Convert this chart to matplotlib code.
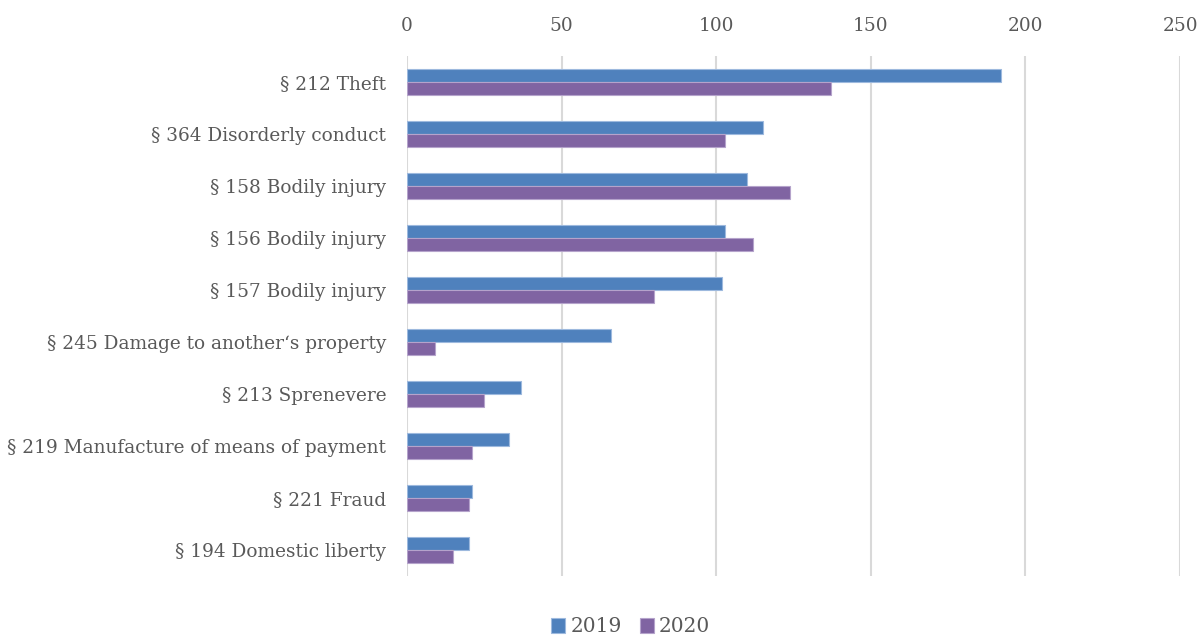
import matplotlib.pyplot as plt
import numpy as np

categorias = ["§ 212 Theft", "§ 364 Disorderly conduct", "§ 158 Bodily injury",
              "§ 156 Bodily injury", "§ 157 Bodily injury",
              "§ 245 Damage to another‘s property", "§ 213 Sprenevere",
              "§ 219 Manufacture of means of payment", "§ 221 Fraud",
              "§ 194 Domestic liberty"]
v2019 = [192, 115, 110, 103, 102, 66, 37, 33, 21, 20]
v2020 = [137, 103, 124, 112, 80, 9, 25, 21, 20, 15]
ticks = [0, 50, 100, 150, 200, 250]

plt.rcParams['font.family'] = ['DejaVu Serif', 'Liberation Serif']
gris = "#595959"

fig = plt.figure(figsize=(11.99, 6.37), dpi=100)
ax = fig.add_axes([407/1199, 1-576/637, (1180-407)/1199, (576-56)/637])

y = np.arange(len(categorias))
h = 0.25
ax.barh(y - h/2, v2019, height=h, color="#4F81BD", edgecolor="#9DB9DE", linewidth=0.8, label="2019", zorder=3)
ax.barh(y + h/2, v2020, height=h, color="#8064A2", edgecolor="#B5A3CB", linewidth=0.8, label="2020", zorder=3)

ax.set_ylim(len(categorias) - 0.5, -0.5)
ax.set_xlim(0, 250)
ax.set_yticks(y)
ax.set_yticklabels(categorias, fontsize=13.3, color=gris)
ax.set_xticks(ticks)
ax.set_xticklabels([str(t) for t in ticks], fontsize=13.3, color=gris)
ax.xaxis.tick_top()
ax.tick_params(axis="x", length=0, pad=15)
ax.tick_params(axis="y", length=0, pad=15)
ax.grid(axis="x", color="#D9D9D9", linewidth=1.5, zorder=0)
for s in ax.spines.values():
    s.set_visible(False)

leg = fig.legend(loc="center", bbox_to_anchor=(0.526, 1-627/637), ncol=2, frameon=False,
                 fontsize=14.5, handlelength=0.7, handleheight=0.7, handletextpad=0.25,
                 columnspacing=0.9)
for t in leg.get_texts():
    t.set_color(gris)

fig.savefig("out.png", dpi=100)
